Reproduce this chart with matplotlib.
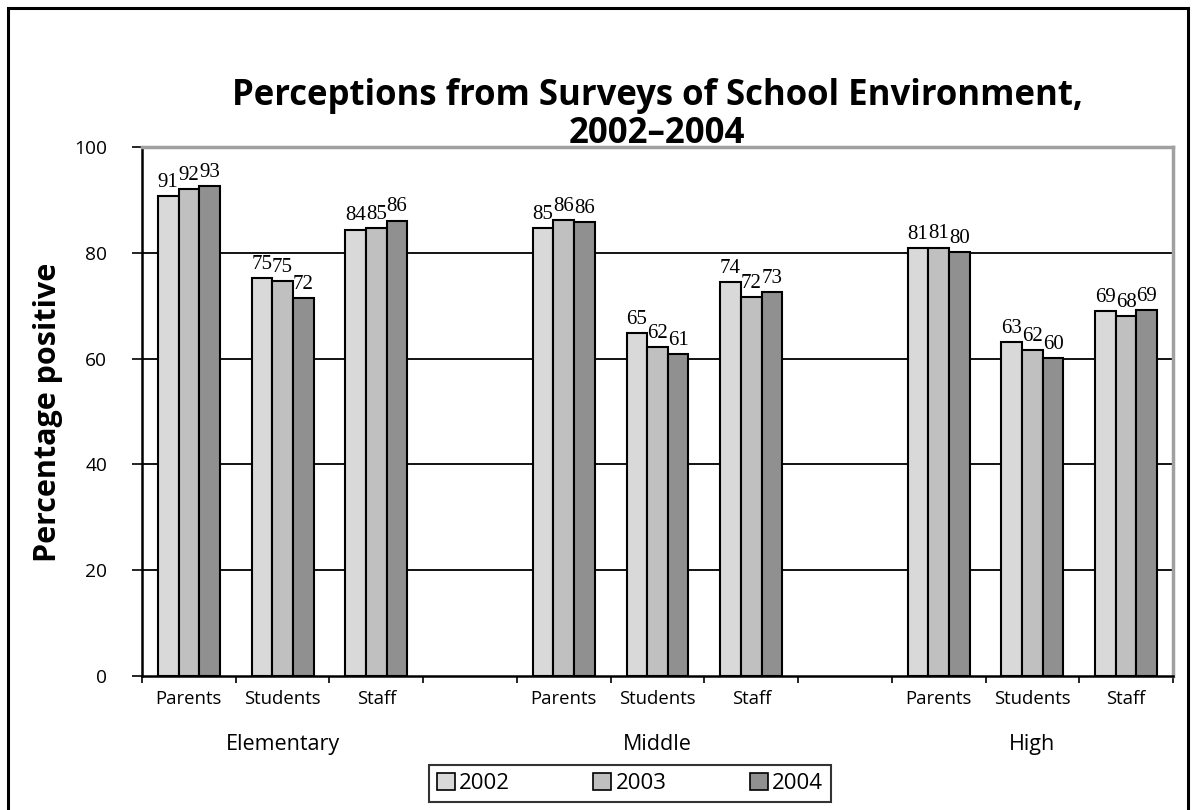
import matplotlib
matplotlib.use("Agg")
import matplotlib.pyplot as plt
from matplotlib.patches import Rectangle, Patch

levels = ["Elementary", "Middle", "High"]
groups = ["Parents", "Students", "Staff"]
years = ["2002", "2003", "2004"]
v2002 = [90.7, 75.2, 84.4, 84.6, 64.8, 74.4, 80.9, 63.2, 69.0]
v2003 = [92.1, 74.7, 84.6, 86.2, 62.2, 71.6, 81.0, 61.6, 68.1]
v2004 = [92.6, 71.5, 86.1, 85.8, 60.9, 72.6, 80.2, 60.1, 69.1]
yticks = [0, 20, 40, 60, 80, 100]
colors = ["#d9d9d9", "#c0c0c0", "#909090"]

fig = plt.figure(figsize=(11.94, 8.10), dpi=100)
L, R, T, B = 142, 1173, 147, 676
W, H = 1194, 810
ax = fig.add_axes([L / W, 1 - B / H, (R - L) / W, (B - T) / H])

pos = []
for li in range(len(levels)):
    for gi in range(len(groups)):
        pos.append(li * 4 + gi)

bw = 0.22
series = [v2002, v2003, v2004]
for si, vals in enumerate(series):
    xs = [p + (si - 1) * bw for p in pos]
    ax.bar(xs, vals, width=bw, color=colors[si], edgecolor="black",
           linewidth=1.5, zorder=3, label=years[si])
    for x, v in zip(xs, vals):
        ax.annotate(f"{int(v + 0.5):d}", (x, v), xytext=(0, 3), textcoords="offset points",
                    ha="center", va="bottom", fontsize=15,
                    family="Liberation Serif", zorder=4)

ax.set_xlim(-0.5, 10.5)
ax.set_ylim(0, 100)
ax.set_yticks(yticks)
ax.set_yticklabels([str(t) for t in yticks], fontsize=13.8, family="Open Sans")
ax.tick_params(axis="y", direction="out", length=7, width=1.2, pad=18)
for t in yticks[1:-1]:
    ax.axhline(t, color="black", lw=1.3, zorder=1)

ax.set_xticks(pos)
ax.set_xticklabels(groups * len(levels), fontsize=13.3, family="Open Sans")
ax.tick_params(axis="x", length=0, pad=10)
ax.set_xticks([i - 0.5 for i in range(12)], minor=True)
ax.tick_params(axis="x", which="minor", direction="out", length=5, width=1.2)

for li, lev in enumerate(levels):
    ax.text(li * 4 + 1, -0.13, lev, transform=ax.get_xaxis_transform(),
            ha="center", va="center", fontsize=15.5, family="Open Sans")

for s in ["left", "bottom"]:
    ax.spines[s].set_color("black")
    ax.spines[s].set_linewidth(1.8)
for s in ["top", "right"]:
    ax.spines[s].set_color("#a0a0a0")
    ax.spines[s].set_linewidth(2.5)

fig.text(48 / W, 1 - 412 / H, "Percentage positive", rotation=90, ha="center", va="center",
         fontsize=22, fontweight="bold", family="Open Sans")
fig.text(657 / W, 1 - 115 / H, "Perceptions from Surveys of School Environment,\n2002\u20132004",
         ha="center", va="center", fontsize=25, fontweight="bold", family="Open Sans",
         linespacing=1.1)

handles = [Patch(facecolor=colors[i], edgecolor="black", linewidth=1.2, label=years[i]) for i in range(3)]
leg = fig.legend(handles=handles, loc="center", bbox_to_anchor=(630 / W, 1 - 783.5 / H), ncol=3,
                 prop={"family": "Open Sans", "size": 16}, frameon=True, fancybox=False,
                 edgecolor="black", handlelength=0.8, handleheight=0.8, handletextpad=0.2,
                 columnspacing=3.75, borderpad=0.35)
leg.get_frame().set_linewidth(1.5)

fig.patches.append(Rectangle((7.5 / W, -0.05), (1188 - 7.5) / W, 1.05 - 7.5 / H,
                             transform=fig.transFigure, fill=False, edgecolor="black",
                             linewidth=2.2))

fig.savefig("out.png", dpi=100)
